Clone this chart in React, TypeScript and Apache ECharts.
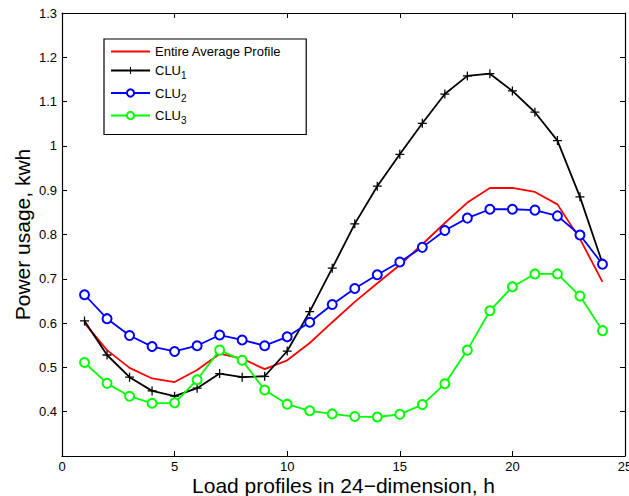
import React, { useEffect, useRef } from "react";
import * as echarts from "echarts";

const hours = [1, 2, 3, 4, 5, 6, 7, 8, 9, 10, 11, 12, 13, 14, 15, 16, 17, 18, 19, 20, 21, 22, 23, 24];
const averageProfile = [0.600, 0.539, 0.499, 0.475, 0.467, 0.494, 0.531, 0.520, 0.496, 0.516, 0.555, 0.602, 0.648, 0.690, 0.731, 0.778, 0.826, 0.872, 0.905, 0.905, 0.896, 0.868, 0.790, 0.693];
const clu1 = [0.605, 0.528, 0.478, 0.447, 0.435, 0.453, 0.486, 0.478, 0.480, 0.537, 0.626, 0.724, 0.824, 0.909, 0.981, 1.051, 1.117, 1.158, 1.163, 1.124, 1.076, 1.012, 0.885, 0.735];
const clu2 = [0.664, 0.610, 0.572, 0.547, 0.536, 0.549, 0.573, 0.562, 0.549, 0.569, 0.602, 0.642, 0.678, 0.709, 0.738, 0.771, 0.809, 0.837, 0.857, 0.857, 0.855, 0.842, 0.799, 0.733];
const clu3 = [0.511, 0.464, 0.435, 0.419, 0.420, 0.472, 0.539, 0.516, 0.449, 0.417, 0.402, 0.395, 0.389, 0.388, 0.394, 0.416, 0.463, 0.539, 0.628, 0.682, 0.711, 0.711, 0.661, 0.583];
const seriesNames = ["Entire Average Profile", "CLU1", "CLU2", "CLU3"];

const FONT = "Liberation Sans, Arial, Helvetica, sans-serif";
const PLUS = "path://M4.3,0H5.7V4.3H10V5.7H5.7V10H4.3V5.7H0V4.3H4.3Z";

function pairs(ys: number[]) {
  return hours.map((h, i) => [h, ys[i]]);
}

export default function App() {
  const ref = useRef<HTMLDivElement>(null);
  useEffect(() => {
    if (!ref.current) return;
    const chart = echarts.init(ref.current, undefined, { renderer: "svg" });
    const tickCommon = { show: true, inside: true, length: 5, lineStyle: { color: "#000", width: 1 } };
    chart.setOption({
      animation: false,
      backgroundColor: "#fff",
      grid: { left: 62, top: 13, right: 4, bottom: 40, outerBoundsMode: "none", containLabel: false },
      legend: {
        orient: "vertical",
        left: 104,
        top: 39,
        data: [
          { name: seriesNames[0], itemStyle: { opacity: 0 } },
          seriesNames[1],
          seriesNames[2],
          seriesNames[3],
        ],
        backgroundColor: "#fff",
        borderColor: "#000",
        borderWidth: 1.2,
        padding: [6, 25, 9, 6],
        itemWidth: 39,
        itemHeight: 9,
        itemGap: 6,
        textStyle: {
          fontFamily: FONT,
          fontSize: 13,
          color: "#000",
          rich: {
            base: { fontFamily: FONT, fontSize: 13, color: "#000" },
            sub: { fontFamily: FONT, fontSize: 10, color: "#000", padding: [10, 0, 0, 0] },
          },
        },
        formatter: (name: string) =>
          name.startsWith("CLU") ? `{base|CLU}{sub|${name.slice(3)}}` : name,
      },
      xAxis: [
        {
          type: "value",
          min: 0,
          max: 25,
          interval: 5,
          name: "Load profiles in 24\u2212dimension, h",
          nameLocation: "middle",
          nameMoveOverlap: false,
          nameGap: 19,
          nameTextStyle: { fontFamily: FONT, fontSize: 21, color: "#000" },
          axisLine: { show: true, onZero: false, lineStyle: { color: "#000", width: 1.2 } },
          axisTick: tickCommon,
          axisLabel: { fontFamily: FONT, fontSize: 13, color: "#000", margin: 4 },
          splitLine: { show: false },
        },
        {
          type: "value",
          position: "top",
          min: 0,
          max: 25,
          interval: 5,
          axisLine: { show: true, onZero: false, lineStyle: { color: "#000", width: 1.2 } },
          axisTick: tickCommon,
          axisLabel: { show: false },
          splitLine: { show: false },
        },
      ],
      yAxis: [
        {
          type: "value",
          min: 0.3,
          max: 1.3,
          interval: 0.1,
          name: "Power usage, kwh",
          nameLocation: "middle",
          nameMoveOverlap: false,
          nameGap: 29,
          nameTextStyle: { fontFamily: FONT, fontSize: 21, color: "#000" },
          axisLine: { show: true, onZero: false, lineStyle: { color: "#000", width: 1.2 } },
          axisTick: tickCommon,
          axisLabel: {
            fontFamily: FONT,
            fontSize: 13,
            color: "#000",
            margin: 5,
            showMinLabel: false,
            formatter: (v: number) => {
              const r = Math.round(v * 10) / 10;
              return r === 1 ? "1" : r.toFixed(1);
            },
          },
          splitLine: { show: false },
        },
        {
          type: "value",
          position: "right",
          min: 0.3,
          max: 1.3,
          interval: 0.1,
          axisLine: { show: true, onZero: false, lineStyle: { color: "#000", width: 1.2 } },
          axisTick: tickCommon,
          axisLabel: { show: false },
          splitLine: { show: false },
        },
      ],
      series: [
        {
          name: seriesNames[0],
          type: "line",
          data: pairs(averageProfile),
          symbol: "none",
          lineStyle: { color: "#ff0000", width: 1.8 },
          itemStyle: { color: "#ff0000" },
          z: 2,
        },
        {
          name: seriesNames[1],
          type: "line",
          data: pairs(clu1),
          symbol: PLUS,
          symbolSize: 9,
          lineStyle: { color: "#000", width: 1.8 },
          itemStyle: { color: "#000", borderWidth: 0 },
          z: 3,
        },
        {
          name: seriesNames[2],
          type: "line",
          data: pairs(clu2),
          symbol: "emptyCircle",
          symbolSize: 9,
          lineStyle: { color: "#0000ff", width: 1.8 },
          itemStyle: { color: "#0000ff", borderWidth: 1.6 },
          z: 4,
        },
        {
          name: seriesNames[3],
          type: "line",
          data: pairs(clu3),
          symbol: "emptyCircle",
          symbolSize: 9,
          lineStyle: { color: "#00ff00", width: 1.8 },
          itemStyle: { color: "#00ff00", borderWidth: 1.6 },
          z: 5,
        },
      ],
    });
    return () => chart.dispose();
  }, []);
  return <div ref={ref} style={{ width: 629, height: 496, position: "absolute", left: 0, top: 0 }} />;
}
